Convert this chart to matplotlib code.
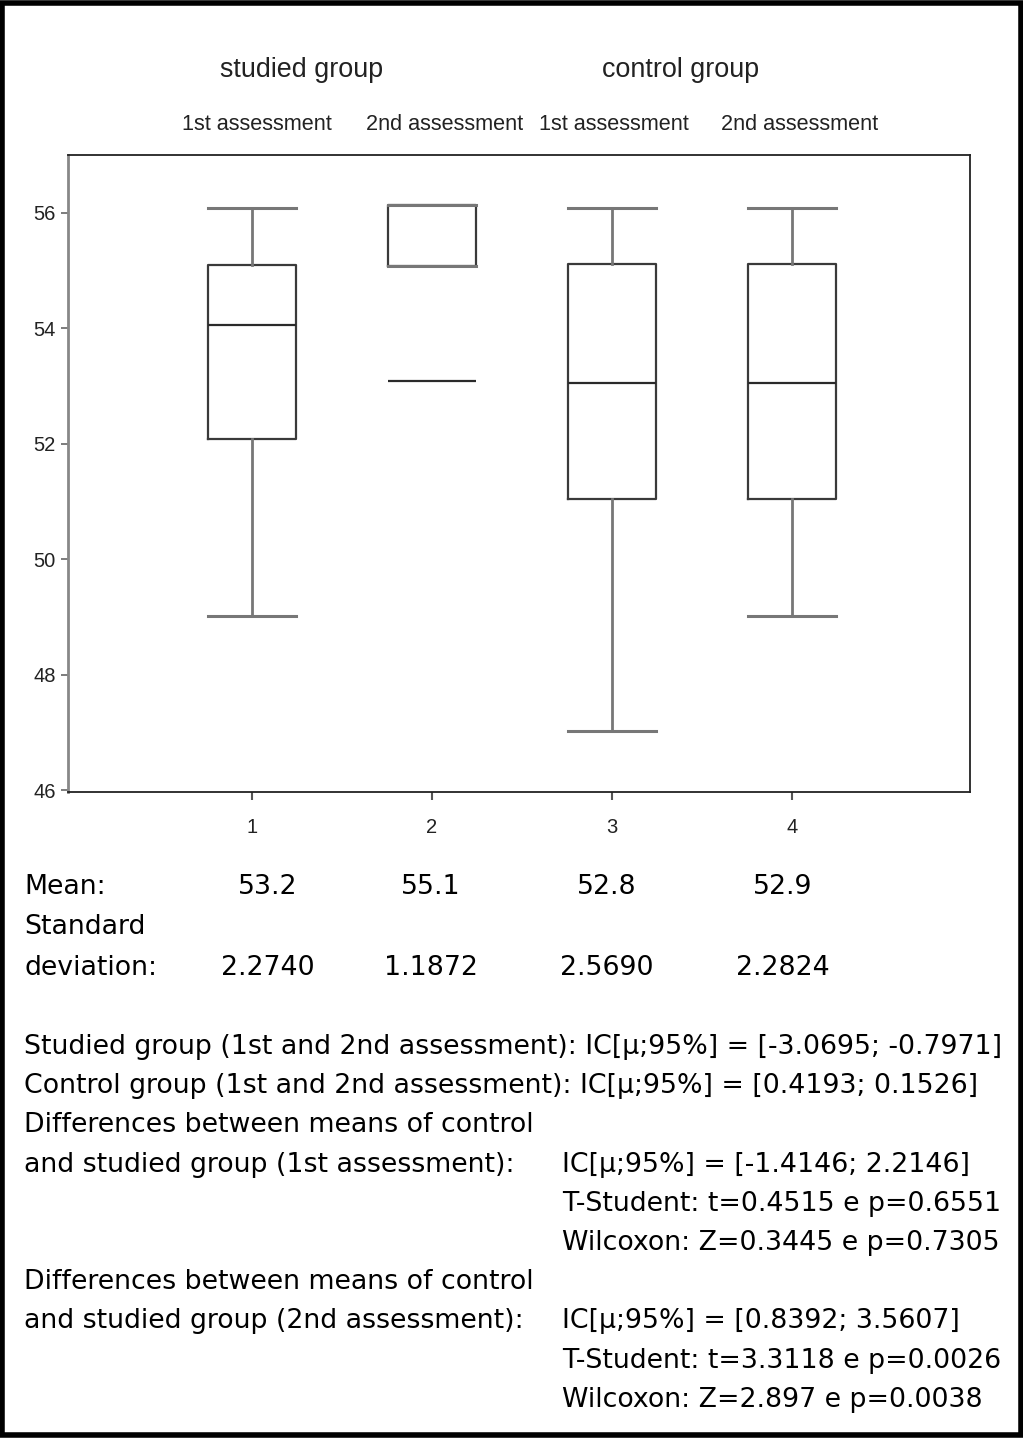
import matplotlib
matplotlib.use("Agg")
import matplotlib.pyplot as plt
from matplotlib.patches import Rectangle

# ─────────────────────────────────────────
# Data
# ─────────────────────────────────────────
positions = [1, 2, 3, 4]
q1 = [52.08, 55.08, 51.05, 51.05]
medians = [54.05, 53.08, 53.05, 53.05]
q3 = [55.09, 56.13, 55.12, 55.12]
whis_lo = [49.02, 55.08, 47.03, 49.02]
whis_hi = [56.08, 56.13, 56.08, 56.08]

group_labels = ["studied group", "control group"]
assess_labels = ["1st assessment", "2nd assessment", "1st assessment", "2nd assessment"]
y_ticks = [46, 48, 50, 52, 54, 56]

means = ["53.2", "55.1", "52.8", "52.9"]
std_devs = ["2.2740", "1.1872", "2.5690", "2.2824"]

stat_lines = [
    "Studied group (1st and 2nd assessment): IC[\u03bc;95%] = [-3.0695; -0.7971]",
    "Control group (1st and 2nd assessment): IC[\u03bc;95%] = [0.4193; 0.1526]",
    "Differences between means of control",
    "and studied group (1st assessment):",
    None,
    None,
    "Differences between means of control",
    "and studied group (2nd assessment):",
    None,
    None,
]
stat_right = [
    None, None, None,
    "IC[\u03bc;95%] = [-1.4146; 2.2146]",
    "T-Student: t=0.4515 e p=0.6551",
    "Wilcoxon: Z=0.3445 e p=0.7305",
    None,
    "IC[\u03bc;95%] = [0.8392; 3.5607]",
    "T-Student: t=3.3118 e p=0.0026",
    "Wilcoxon: Z=2.897 e p=0.0038",
]

W, H = 1023, 1438
fig = plt.figure(figsize=(W / 100, H / 100), dpi=100)

def fx(px):
    return px / W

def fy(py):
    return 1 - py / H

# border
fig.patches.append(Rectangle((0.002, 0.002), 0.996, 0.996, transform=fig.transFigure,
                             fill=False, edgecolor="black", linewidth=4))

ax = fig.add_axes([fx(68), fy(792), fx(970) - fx(68), fy(155) - fy(792)])

stats = []
for i in range(len(positions)):
    stats.append(dict(med=medians[i], q1=q1[i], q3=q3[i],
                      whislo=whis_lo[i], whishi=whis_hi[i], fliers=[]))

ax.bxp(stats, positions=positions, widths=0.49, capwidths=0.49,
       showfliers=False, patch_artist=False,
       boxprops=dict(color="#3a3a3a", linewidth=1.6),
       whiskerprops=dict(color="#777777", linewidth=2.0),
       capprops=dict(color="#777777", linewidth=2.2),
       medianprops=dict(color="#2a2a2a", linewidth=1.6))

ax.set_xlim(-0.02, 4.99)
ax.set_ylim(45.97, 57.0)
ax.set_yticks(y_ticks)
ax.set_yticklabels([str(t) for t in y_ticks])
ax.set_xticks(positions)
ax.set_xticklabels([str(p) for p in positions])

sans = ["Liberation Sans", "DejaVu Sans"]
ax.tick_params(axis="y", direction="out", length=5, width=1.2, color="#666666",
               labelsize=14.5, pad=4, labelcolor="#222222")
ax.tick_params(axis="x", direction="out", length=6, width=1.5, color="#555555",
               labelsize=14.5, pad=13, labelcolor="#222222")
for lab in ax.get_xticklabels() + ax.get_yticklabels():
    lab.set_family(sans)

for side in ["top", "right", "bottom"]:
    ax.spines[side].set_color("#222222")
    ax.spines[side].set_linewidth(1.3)
ax.spines["left"].set_color("#888888")
ax.spines["left"].set_linewidth(2.0)

# headers above the plot
fig.text(fx(302), fy(70), group_labels[0], ha="center", va="center",
         fontsize=19.4, family=sans, color="#222222")
fig.text(fx(681), fy(70), group_labels[1], ha="center", va="center",
         fontsize=19.4, family=sans, color="#222222")
for xpx, lab in zip([257, 445, 614, 800], assess_labels):
    fig.text(fx(xpx), fy(125), lab, ha="center", va="center",
             fontsize=15.6, family=sans, color="#222222")

# summary block below
body = ["DejaVu Sans"]
fs = 19.3
fig.text(fx(24), fy(887), "Mean:", ha="left", va="center", fontsize=fs, family=body)
fig.text(fx(24), fy(927), "Standard", ha="left", va="center", fontsize=fs, family=body)
fig.text(fx(24), fy(968), "deviation:", ha="left", va="center", fontsize=fs, family=body)
for xpx, m, s in zip([268, 431, 607, 783], means, std_devs):
    fig.text(fx(xpx), fy(887), m, ha="center", va="center", fontsize=fs, family=body)
    fig.text(fx(xpx), fy(968), s, ha="center", va="center", fontsize=fs, family=body)

y0, dy = 1047, 39.2
for k, (left, right) in enumerate(zip(stat_lines, stat_right)):
    ypx = y0 + k * dy
    if left:
        fig.text(fx(24), fy(ypx), left, ha="left", va="center", fontsize=fs, family=body)
    if right:
        fig.text(fx(562), fy(ypx), right, ha="left", va="center", fontsize=fs, family=body)

fig.savefig("out.png", dpi=100)
